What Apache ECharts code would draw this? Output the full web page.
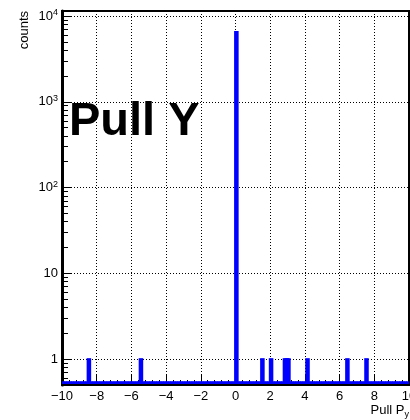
<!DOCTYPE html>
<html><head><meta charset="utf-8">
<script src="https://cdn.jsdelivr.net/npm/echarts@6/dist/echarts.min.js"></script>
<style>html,body{margin:0;padding:0;background:#fff}#c{width:410px;height:420px}</style>
</head><body><div id="c"></div>
<script>
// ---- data ----
const xMin = -10, xMax = 10, binWidth = 0.1;
const binCenters = [-8.45, -5.45, 0.05, 1.55, 2.05, 2.85, 2.95, 3.05, 4.15, 6.45, 7.55];
const binCounts  = [1, 1, 6500, 1, 1, 1, 1, 1, 1, 1, 1];
const yMin = 0.5, yMax = 11430;
const xTickLabels = [-10, -8, -6, -4, -2, 0, 2, 4, 6, 8, 10];
const yMajorTicks = [1, 10, 100, 1000, 10000];
const yMajorLabels = ['1', '10', '10^2', '10^3', '10^4'];
const yMinorTicks = [0.6, 0.7, 0.8, 0.9, 2, 3, 4, 5, 6, 7, 8, 9,
  20, 30, 40, 50, 60, 70, 80, 90, 200, 300, 400, 500, 600, 700, 800, 900,
  2000, 3000, 4000, 5000, 6000, 7000, 8000, 9000];

// full histogram table (all bins, empty ones = 0)
const nBins = Math.round((xMax - xMin) / binWidth);
const hist = [];
for (let i = 0; i < nBins; i++) {
  const c = xMin + (i + 0.5) * binWidth;
  let n = 0;
  binCenters.forEach((bc, k) => { if (Math.abs(bc - c) < binWidth / 4) n = binCounts[k]; });
  hist.push([+c.toFixed(3), n]);
}

const FONT = 'Liberation Sans, Arial, sans-serif';
const chart = echarts.init(document.getElementById('c'), null, {renderer: 'canvas'});

const option = {
  animation: false,
  backgroundColor: '#fff',
  grid: {left: 62, top: 11, width: 347, height: 374, show: true, borderColor: '#000', borderWidth: 2,
    backgroundColor: 'transparent', containLabel: false, outerBoundsMode: 'none'},
  xAxis: {
    type: 'value', min: xMin, max: xMax, interval: 2,
    axisLine: {show: true, onZero: false, lineStyle: {color: '#000', width: 2}},
    axisTick: {show: true, inside: true, length: 11, lineStyle: {color: '#000', width: 1}},
    minorTick: {show: true, splitNumber: 5, length: 5, lineStyle: {color: '#000', width: 1}},
    minorSplitLine: {show: false},
    splitLine: {show: true, lineStyle: {color: '#000', width: 1, type: [1, 2]}},
    axisLabel: {
      customValues: xTickLabels, hideOverlap: false,
      formatter: v => (v < 0 ? '\u2212' + (-v) : '' + v),
      color: '#000', fontSize: 13, fontFamily: FONT, margin: 5
    },
    name: '{a|Pull P}{s|y}', nameLocation: 'end', nameGap: 0,
    nameTextStyle: {align: 'right', verticalAlign: 'top', padding: [17, 0, 0, 0],
      rich: {a: {fontSize: 13, fontFamily: FONT, color: '#000', lineHeight: 16},
             s: {fontSize: 9, fontFamily: FONT, color: '#000', verticalAlign: 'bottom', padding: [8, 0, 0, 0]}}}
  },
  yAxis: [{
    type: 'log', logBase: 10, min: yMin, max: yMax,
    axisLine: {show: true, onZero: false, lineStyle: {color: '#000', width: 3}},
    axisTick: {show: true, inside: true, length: 10, customValues: yMajorTicks, lineStyle: {color: '#000', width: 1}},
    splitLine: {show: true, lineStyle: {color: '#000', width: 1, type: [1, 2]}},
    axisLabel: {
      customValues: yMajorTicks, margin: 4, color: '#000', fontSize: 13, fontFamily: FONT,
      formatter: v => {
        const i = yMajorTicks.findIndex(t => Math.abs(t - v) / t < 1e-6);
        if (i < 0) return '';
        const s = yMajorLabels[i];
        if (s.indexOf('^') >= 0) { const p = s.split('^'); return '{b|' + p[0] + '}{s|' + p[1] + '}'; }
        return '{b|' + s + '}';
      },
      rich: {b: {fontSize: 13, fontFamily: FONT, color: '#000', lineHeight: 14},
             s: {fontSize: 9, fontFamily: FONT, color: '#000', verticalAlign: 'top', padding: [0, 0, 6, 0]}}
    }
  }, {
    type: 'log', logBase: 10, min: yMin, max: yMax, position: 'left',
    axisLine: {show: false, onZero: false},
    axisTick: {show: true, inside: true, length: 6, customValues: yMinorTicks, lineStyle: {color: '#000', width: 1}},
    axisLabel: {show: false},
    splitLine: {show: false}
  }],
  graphic: [
    {type: 'text', x: 24, y: 11, rotation: Math.PI / 2,
     style: {text: 'counts', fill: '#000', font: '13px ' + FONT, align: 'right', verticalAlign: 'middle'}},
    {type: 'text', x: 69, y: 122, z: 100,
     style: {text: 'Pull Y', fill: '#000', font: 'bold 47px ' + FONT, align: 'left', verticalAlign: 'middle'}}
  ],
  series: [{
    type: 'custom', coordinateSystem: 'cartesian2d', xAxisIndex: 0, yAxisIndex: 0,
    encode: {x: 0, y: 1}, clip: true, z: 3,
    data: hist,
    renderItem: (params, api) => {
      const xc = api.value(0), n = api.value(1);
      const cs = params.coordSys;
      const bottom = cs.y + cs.height;
      const l = api.coord([xc - binWidth / 2, 1])[0];
      const r = api.coord([xc + binWidth / 2, 1])[0];
      const top = n > 0 ? api.coord([xc, n])[1] - 1 : bottom - 3.5;
      return {type: 'rect', shape: {x: l - 1.4, y: top, width: r - l + 2.8, height: bottom - 1 - top},
              style: {fill: '#0000ff'}};
    }
  }]
};
chart.setOption(option);
</script></body></html>
